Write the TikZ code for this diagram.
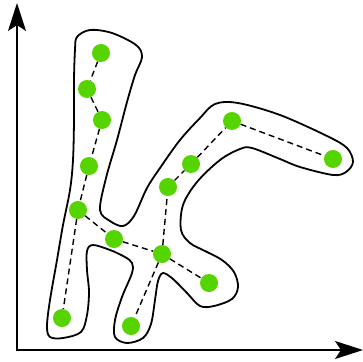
\documentclass[tikz,border=0pt]{standalone}
\usepackage{tikz}
\usetikzlibrary{arrows.meta}
\definecolor{verde}{RGB}{85,212,0}

\begin{document}
\begin{tikzpicture}[
  x=1pt, y=-1pt,
  punto/.style={circle, fill=verde, minimum size=18pt, inner sep=0pt},
  enlace/.style={dash pattern=on 6pt off 4pt, line width=1.4pt},
  contorno/.style={line width=1.8pt, line join=round},
  eje/.style={{Stealth[length=28pt, width=18pt, inset=6pt]}-{Stealth[length=28pt, width=18pt, inset=6pt]},
              line width=1.6pt}
]
\useasboundingbox (0,0) rectangle (363,361);

% ---- Ejes ----
\coordinate (origen) at (17,350);
\coordinate (xfin) at (363,350);
\coordinate (yfin) at (17,3);
\draw[eje] (yfin) -- (origen) -- (xfin);

% ---- Contorno del grupo ----
\draw[contorno] plot[smooth cycle, tension=0.55] coordinates {
  (77,37) (90,30) (112,33) (136,45) (142,57) (135,75) (127,102) (117,140)
  (106,178) (100,210) (110,221) (123,226) (134,216) (147,188) (160,168)
  (180,140) (200,118) (215,104) (238,103) (280,115) (327,136) (347,148)
  (353,162) (346,172) (333,175) (300,167) (280,159) (252,148) (240,149)
  (220,160) (197,182) (183,205) (181,230) (190,243) (205,251) (222,260)
  (234,272) (238,287) (232,299) (214,306) (200,306) (187,293) (173,279)
  (163,273) (158,281) (155,300) (151,324) (143,338) (127,343) (115,337)
  (115,320) (122,297) (132,273) (132,263) (125,257) (110,250) (93,245)
  (87,251) (87,270) (89,292) (87,315) (81,332) (63,338) (50,337) (47,326)
  (50,300) (57,260) (63,225) (70,190) (73,160) (74,120) (74,80) (75,50)};

% ---- Puntos ----
\node[punto] (p1) at (101,53) {};
\node[punto] (p2) at (87,89) {};
\node[punto] (p3) at (102,120) {};
\node[punto] (p4) at (89,166) {};
\node[punto] (p5) at (78,210) {};
\node[punto] (p6) at (114,239) {};
\node[punto] (p7) at (62,318) {};
\node[punto] (p8) at (162,254) {};
\node[punto] (p9) at (131,326) {};
\node[punto] (p10) at (209,283) {};
\node[punto] (p11) at (168,187) {};
\node[punto] (p12) at (191,164) {};
\node[punto] (p13) at (232,121) {};
\node[punto] (p14) at (333,159) {};

% ---- Enlaces ----
\draw[enlace] (p1) -- (p2);
\draw[enlace] (p2) -- (p3);
\draw[enlace] (p3) -- (p4);
\draw[enlace] (p4) -- (p5);
\draw[enlace] (p5) -- (p7);
\draw[enlace] (p5) -- (p6);
\draw[enlace] (p6) -- (p8);
\draw[enlace] (p8) -- (p9);
\draw[enlace] (p8) -- (p10);
\draw[enlace] (p8) -- (p11);
\draw[enlace] (p11) -- (p12);
\draw[enlace] (p12) -- (p13);
\draw[enlace] (p13) -- (p14);
\end{tikzpicture}
\end{document}
